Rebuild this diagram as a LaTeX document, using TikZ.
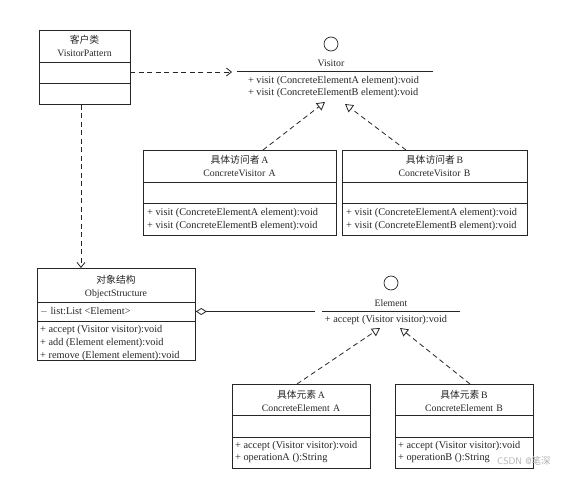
\documentclass[tikz,border=0pt]{standalone}
\usepackage{fontspec}
\setmainfont{Liberation Serif}
\newfontfamily\cjk{Noto Sans CJK SC}
\usetikzlibrary{arrows.meta,calc}
\definecolor{ink}{HTML}{262626}
\tikzset{
  umlbox/.style={draw=ink, line width=0.8pt, rectangle, inner sep=0pt},
  sepline/.style={draw=ink, line width=0.7pt},
  headtxt/.style={text=ink, align=center, inner sep=0pt, font=\fontsize{9.8}{13}\selectfont},
  membtxt/.style={text=ink, align=left, inner sep=0pt, anchor=west, font=\fontsize{10.3}{12.8}\selectfont},
  ifcircle/.style={draw=ink, line width=0.7pt, circle, minimum size=14pt, inner sep=0pt},
  depend/.style={draw=ink, line width=0.8pt, dash pattern=on 5pt off 3.5pt, -{Straight Barb[length=5pt,width=8pt]}},
  realize/.style={draw=ink, line width=0.8pt, dash pattern=on 5pt off 3.5pt, -{Triangle[open,length=8pt,width=9pt]}},
  aggreg/.style={draw=ink, line width=0.8pt, {Diamond[open,length=11pt,width=7pt]}-},
}
\begin{document}
\begin{tikzpicture}[x=1pt,y=-1pt]
\useasboundingbox[fill=white] (0,0) rectangle (580,476);

% ---------- Client ----------
\node[umlbox, minimum width=91pt, minimum height=74pt, anchor=north west] (client) at (39,30) {};
\draw[sepline] (client.west |- 0,62) -- (client.east |- 0,62);
\draw[sepline] (client.west |- 0,83) -- (client.east |- 0,83);
\node[headtxt] (clientname) at (84.5,46) {{\cjk 客户类}\\VisitorPattern};

% ---------- Visitor interface ----------
\node[ifcircle] (vcirc) at (331,44) {};
\coordinate (vlinel) at (237,71);
\coordinate (vliner) at (433,71);
\draw[sepline] (vlinel) -- (vliner);
\node[headtxt] (vname) at (331,63) {Visitor};
\node[membtxt, anchor=center] (vmeth) at (333.5,87) {+ visit (ConcreteElementA element):void\\+ visit (ConcreteElementB element):void};

% ---------- Concrete Visitor A ----------
\node[umlbox, minimum width=193pt, minimum height=85pt, anchor=north west] (cva) at (143,150) {};
\draw[sepline] (cva.west |- 0,182) -- (cva.east |- 0,182);
\draw[sepline] (cva.west |- 0,203) -- (cva.east |- 0,203);
\node[headtxt] (cvaname) at (239.5,166) {{\cjk 具体访问者}\,A\\ConcreteVisitor\,\,A};
\node[membtxt] (cvameth) at (147,219.5) {+ visit (ConcreteElementA element):void\\+ visit (ConcreteElementB element):void};

% ---------- Concrete Visitor B ----------
\node[umlbox, minimum width=185pt, minimum height=85pt, anchor=north west] (cvb) at (342,150) {};
\draw[sepline] (cvb.west |- 0,182) -- (cvb.east |- 0,182);
\draw[sepline] (cvb.west |- 0,203) -- (cvb.east |- 0,203);
\node[headtxt] (cvbname) at (434.5,166) {{\cjk 具体访问者}\,B\\ConcreteVisitor\,\,B};
\node[membtxt] (cvbmeth) at (346,219.5) {+ visit (ConcreteElementA element):void\\+ visit (ConcreteElementB element):void};

% ---------- ObjectStructure ----------
\node[umlbox, minimum width=158pt, minimum height=92pt, anchor=north west] (os) at (37,268) {};
\draw[sepline] (os.west |- 0,302) -- (os.east |- 0,302);
\draw[sepline] (os.west |- 0,321) -- (os.east |- 0,321);
\node[headtxt] (osname) at (116,287) {{\cjk 对象结构}\\ObjectStructure};
\node[membtxt] (osattr) at (40,311.5) {$-$ list:List <Element>};
\node[membtxt] (osmeth) at (40,343) {+ accept (Visitor visitor):void\\+ add (Element element):void\\+ remove (Element element):void};

% ---------- Element interface ----------
\node[ifcircle] (ecirc) at (391,283) {};
\coordinate (elinel) at (322,311);
\coordinate (eliner) at (460,311);
\draw[sepline] (elinel) -- (eliner);
\node[headtxt] (ename) at (391,303) {Element};
\node[membtxt, anchor=center] (emeth) at (386,320.5) {+ accept (Visitor visitor):void};

% ---------- Concrete Element A ----------
\node[umlbox, minimum width=138pt, minimum height=84pt, anchor=north west] (cea) at (232,384) {};
\draw[sepline] (cea.west |- 0,415) -- (cea.east |- 0,415);
\draw[sepline] (cea.west |- 0,437) -- (cea.east |- 0,437);
\node[headtxt] (ceaname) at (301,401) {{\cjk 具体元素}\,A\\ConcreteElement\,\,A};
\node[membtxt] (ceameth) at (235,452) {+ accept (Visitor visitor):void\\+ operationA ():String};

% ---------- Concrete Element B ----------
\node[umlbox, minimum width=138pt, minimum height=84pt, anchor=north west] (ceb) at (395,384) {};
\draw[sepline] (ceb.west |- 0,415) -- (ceb.east |- 0,415);
\draw[sepline] (ceb.west |- 0,437) -- (ceb.east |- 0,437);
\node[headtxt] (cebname) at (464,401) {{\cjk 具体元素}\,B\\ConcreteElement\,\,B};
\node[membtxt] (cebmeth) at (398,452) {+ accept (Visitor visitor):void\\+ operationB ():String};

% ---------- connectors ----------
\coordinate (clientout) at (130,72);
\coordinate (vin) at (232,72);
\draw[depend] (clientout) -- (vin);

\coordinate (downx) at (81,0);
\draw[depend] (client.south -| downx) -- (os.north -| downx);

\coordinate (cvaout) at (263,150);
\coordinate (vtipa) at (325,102);
\draw[realize] (cvaout) -- (vtipa);
\coordinate (cvbout) at (406,150);
\coordinate (vtipb) at (345,104);
\draw[realize] (cvbout) -- (vtipb);

\coordinate (osagg) at (os.east |- 0,311.5);
\coordinate (eaggend) at (315,311.5);
\draw[aggreg] (osagg) -- (eaggend);

\coordinate (ceaout) at (297,384);
\coordinate (etipa) at (380,328);
\draw[realize] (ceaout) -- (etipa);
\coordinate (cebout) at (470,384);
\coordinate (etipb) at (400,328);
\draw[realize] (cebout) -- (etipb);

% watermark
\node[text=black!30, inner sep=0pt, font=\fontsize{9.5}{11}\sffamily, anchor=west] (wm) at (497,461) {CSDN @{\cjk 笔深}};
\end{tikzpicture}
\end{document}
